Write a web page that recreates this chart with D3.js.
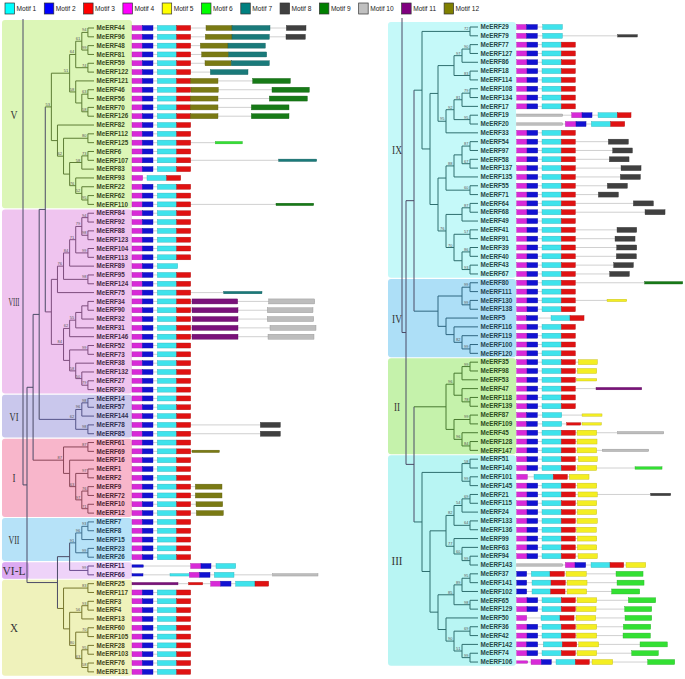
<!DOCTYPE html>
<html>
<head>
<meta charset="utf-8">
<script src="https://cdn.jsdelivr.net/npm/d3@7"></script>
<style>
  body { margin: 0; background: #fff; }
</style>
</head>
<body>
<div id="chart"></div>
<script>
// ---- data ----
const motifNames = d3.range(1, 13).map(i => "Motif " + i);

// clade subtrees (newick, leaf = MeERF number, internal label = bootstrap)
const leftClades = [
  {key: "V", label: "V", newick: "(((((44,96)94,(48,81)99)61,(59,122)74)64,(121,((46,56)63,(70,126)58))58)51,(82,((112,125)80,(((6,107)73,83)58,(93,(22,(62,110)95)52)76))62))53"},
  {key: "VIII", label: "VIII", newick: "(((((((84,92)94,(88,123)98)79,(104,113)99)71,89)84,(95,124)98)76,75),(((((34,90),32),31)55,146)62,((52,73)99,(38,(132,(27,30)79)50)58))84)"},
  {key: "VI", label: "VI", newick: "(((14,57)98,144)96,(78,85)98)62"},
  {key: "I", label: "I", newick: "((61,69)87,(16,((1,2)97,((9,72)76,(10,12)71)97)63))87"},
  {key: "VII", label: "VII", newick: "(((7,8)93,15)96,(23,26)99)91"},
  {key: "VIL", label: "VI-L", newick: "(11,66)99"},
  {key: "X", label: "X", newick: "((25,117)83,(((3,4)93,13)56,((60,105)70,((28,103)95,(76,131)58)63)80))"}
];
const leftShape = "((((V,VIII),VI),I),((VII,VIL),X))";

const rightClades = [
  {key: "IX", label: "IX", newick: "((29,79)72,(((((77,127)90,86)97,(18,114)83),((((108,134)79,17)81,(19,20)95)92,33)95),(((((54,97)87,(58,137)67),135)88,(55,71)60),(((64,68)87,49),((41,91)57,((39,40)86,(43,67)93))70)76)))"},
  {key: "IV", label: "IV", newick: "(((80,111)99,(130,138)99),(5,(116,(119,(100,120)99)82)))"},
  {key: "II", label: "II", newick: "((((35,98)99,53),(47,(118,139)78))96,((87,109)99,(45,(128,147)84)96))"},
  {key: "III", label: "III", newick: "(((51,140)58,(101,145)99),(((((21,115)69,24)54,(133,136)64)82,(99,(63,(94,143)99)60)77),((((37,141)95,102)89,(65,129)98)85,(50,((36,42)69,(142,(74,106)99)51)90))))"}
];
const rightShape = "((IX,IV),(II,III))";

// motif layout per protein: "motif:start-end" in aa, "t" = thin; S = the usual 4-2-1-3 block
const stdMotifs = "4:0-31 2:31-63 1:76-134 3:134-176";
const motifSpecs = {
  44: "S 12:222-300 7:300-414 8:463-522", 96: "S 12:220-300 7:300-412 8:462-520",
  48: "S 12:205-288 7:288-400", 81: "S 12:209-290 7:290-404", 59: "S 12:219-298 7:298-412",
  122: "S 7:235-348", 121: "S 12:176-258 9:362-475", 46: "S 12:177-259 9:420-532",
  56: "S 12:175-258 9:412-526", 70: "S 12:175-258 9:358-471", 126: "S 12:175-258 9:358-471",
  125: "S 6:250-331t", 107: "S 7:440-554t", 93: "4:0-32 1:45-104 3:104-146", 110: "S 9:432-545t",
  89: "4:0-31 2:31-63 1:76-137", 75: "S 7:275-390t",
  34: "S 11:180-317 10:410-548", 90: "S 11:180-318 10:406-543", 32: "S 11:181-318 10:406-545",
  31: "S 11:180-318 10:414-552", 146: "S 11:180-318 10:408-546",
  78: "S 8:385-445", 85: "S 8:385-445",
  69: "S 12:180-262t", 9: "S 12:190-270", 72: "S 12:190-270", 10: "S 12:192-272", 12: "S 12:193-274",
  11: "2:0-34t 4:176-207 2:207-237 1:252-311",
  66: "2:0-33t 1:114-172t 4:172-203 2:203-234 1:247-306 10:422-558t",
  25: "11:0-138t 3:170-212t 4:236-266 2:266-297 1:311-369 3:369-410",
  29: "4:0-30 2:30-62 1:78-137", 79: "4:0-30 2:30-62 1:78-137 8:303-362t",
  19: "10:0-138t 4:165-196 2:196-226 1:244-302 3:302-343",
  20: "10:0-138t 4:146-178 2:178-208 1:224-282 3:282-324",
  54: "S 8:275-335", 97: "S 8:288-347", 58: "S 8:278-337", 137: "S 8:313-373", 135: "S 8:311-371",
  55: "S 8:272-332", 71: "S 8:245-305", 64: "S 8:350-410", 68: "S 8:385-445",
  41: "S 8:301-360", 91: "S 8:295-355", 39: "S 8:300-360", 40: "S 8:299-359", 43: "S 8:291-350", 67: "S 8:279-338",
  80: "S 9:384-498t", 130: "S 5:271-330t", 5: "4:0-30 2:30-63 1:103-160 3:160-202",
  35: "S 5:185-242", 98: "S 5:182-240", 53: "S 5:180-240t", 47: "S 11:238-375t",
  87: "4:0-30 2:30-62 1:77-135 5:196-256t", 109: "4:0-30 2:30-62 1:77-135 3:150-192t 5:196-254t",
  45: "S 5:181-240 10:303-441t", 128: "S 5:181-241", 147: "S 5:181-240 10:257-396t",
  51: "S 5:185-242", 140: "S 5:182-240 6:355-436t", 101: "4:0-32 1:52-110 3:110-152 5:158-217",
  145: "S 5:182-240", 21: "S 5:184-242 8:402-462t", 115: "S 5:182-240", 24: "S 5:182-240",
  133: "S 5:181-242", 136: "S 5:180-239", 99: "S 5:182-240", 63: "S 5:182-240", 94: "S 5:184-242",
  143: "10:0-138t 4:146-175 2:175-207 1:223-280 3:280-321 5:328-387",
  37: "2:0-30 1:44-100 3:100-143 5:148-209 6:298-379", 141: "2:0-30 1:46-103 3:103-146 5:151-211 6:301-382",
  102: "2:0-30 1:46-102 3:102-145 5:151-210 6:285-369", 65: "S 5:181-240 6:335-417",
  129: "S 5:179-238 6:324-405", 50: "4:0-30 1:73-130 3:130-172 5:178-237 6:325-405",
  36: "S 5:180-240 6:320-402", 42: "S 5:180-240 6:319-401",
  142: "4:0-30 2:30-63 1:80-137 3:137-180 5:186-246 6:370-452", 74: "S 5:181-240 6:345-425",
  106: "4:0-33t 4:43-74 2:74-104 1:118-176 3:176-218 5:226-288 6:393-474"
};

// ---- styles ----
const motifColors = ["#3fe3ec", "#1212d2", "#e01212", "#d82ad8", "#f4ee22", "#33e033",
                     "#1a7a7a", "#404040", "#177a17", "#bdbdbd", "#7a127a", "#7a7a14"];
const legendColors = ["#00ffff", "#0000ff", "#ff0000", "#ff00ff", "#ffff00", "#00ff00",
                      "#008080", "#404040", "#008000", "#c0c0c0", "#800080", "#808000"];
const cladeStyle = {
  V:    {fill: "#dcf6b7", line: "#5d7d35", text: "#38491d", w: 7},
  VIII: {fill: "#efc4ef", line: "#7d4d7d", text: "#462a46", w: 11},
  VI:   {fill: "#c9c7ec", line: "#55558a", text: "#2f2f52", w: 9},
  I:    {fill: "#f8b6cb", line: "#8a4658", text: "#4e2230", w: 3},
  VII:  {fill: "#b6e2f8", line: "#3f6f8f", text: "#1f3f55", w: 11},
  VIL:  {fill: "#eed3f9", tab: "#dcaaf2", line: "#6a4a8f", text: "#3b2450", w: 23},
  X:    {fill: "#eff2bb", line: "#77772f", text: "#45451a", w: 8},
  IX:   {fill: "#c5f9f9", line: "#2f6f6f", text: "#1f4545", w: 10},
  IV:   {fill: "#addff7", line: "#2f6680", text: "#1d3f50", w: 10},
  II:   {fill: "#c5f2ab", line: "#487a30", text: "#2a4a1a", w: 6},
  III:  {fill: "#b8f5f3", line: "#2f6f6f", text: "#1f4545", w: 11}
};
const rootLine = "#4b4b66";

const width = 685, height = 679;
const svg = d3.select("#chart").append("svg")
  .attr("width", width).attr("height", height)
  .style("font-family", "'Liberation Sans', Arial, sans-serif");
svg.append("rect").attr("width", width).attr("height", height).attr("fill", "#fff");

// ---- helpers ----
function parseNewick(s) {
  let i = 0;
  function node() {
    const n = {};
    if (s[i] === "(") {
      i++;
      n.children = [];
      n.children.push(node());
      while (s[i] === ",") { i++; n.children.push(node()); }
      i++;
    }
    let tok = "";
    while (i < s.length && !",()".includes(s[i])) tok += s[i++];
    n.name = tok;
    return n;
  }
  return node();
}

function tag(n, key) {
  n.clade = key;
  if (n.children) n.children.forEach(c => tag(c, key));
}

function buildTree(shape, clades) {
  const byKey = new Map(clades.map(c => [c.key, c]));
  function sub(n) {
    if (!n.children && byKey.has(n.name)) {
      const t = parseNewick(byKey.get(n.name).newick);
      tag(t, n.name);
      return t;
    }
    if (n.children) n.children = n.children.map(sub);
    return n;
  }
  return sub(parseNewick(shape));
}

function parseSpec(id) {
  let spec = motifSpecs[id] || "S";
  spec = spec.replace("S", stdMotifs);
  return spec.split(" ").map(tok => {
    const m = tok.match(/(\d+):(\d+)-(\d+)(t?)/);
    return {motif: +m[1], start: +m[2], end: +m[3], thin: m[4] === "t"};
  });
}

function drawPanel(data, clades, opt) {
  const g = svg.append("g");
  const root = d3.hierarchy(buildTree(data, clades));
  d3.cluster().separation(() => 1).size([1, 1])(root);
  const leaves = root.leaves();
  const n = leaves.length;
  const y = d3.scaleLinear().domain([leaves[0].x, leaves[n - 1].x])
    .range([opt.y0, opt.y0 + (n - 1) * opt.step]);
  const x = d3.scaleLinear().domain([0, 1]).range([opt.rootX, opt.leafX]);
  const ms = d3.scaleLinear().domain([0, 600]).range([opt.motifX, opt.motifX + 200]);

  // clade boxes
  clades.forEach((c, i) => {
    const ls = leaves.filter(l => l.data.clade === c.key);
    const st = cladeStyle[c.key];
    const top = i === 0 ? opt.boxTop : y(ls[0].x) - opt.step / 2 + 0.6;
    const bot = y(ls[ls.length - 1].x) + opt.step / 2 - 0.6;
    g.append("rect").attr("x", opt.boxX0).attr("y", top)
      .attr("width", opt.boxX1 - opt.boxX0).attr("height", bot - top)
      .attr("rx", 3).attr("fill", st.fill);
    if (st.tab) {
      g.append("rect").attr("x", opt.boxX0).attr("y", top)
        .attr("width", 27).attr("height", bot - top)
        .attr("rx", 3).attr("fill", st.tab);
    }
    g.append("text")
      .attr("x", opt.labelX).attr("y", (top + bot) / 2)
      .attr("dy", "0.35em").attr("text-anchor", "middle")
      .attr("textLength", st.w).attr("lengthAdjust", "spacingAndGlyphs")
      .style("font-family", "'Liberation Serif', 'Times New Roman', serif")
      .style("font-size", "13px").attr("fill", "#333")
      .text(c.label);
  });

  const col = d => d.data.clade ? cladeStyle[d.data.clade].line : rootLine;

  // root stem up to the top edge
  g.append("path")
    .attr("d", `M${opt.rootX},${y(root.x)}H${opt.rootX - 4}V${opt.stemTop}`)
    .attr("fill", "none").attr("stroke", rootLine).attr("stroke-width", 1);

  // branches
  root.descendants().filter(d => d.children).forEach(d => {
    const first = d.children[0], last = d.children[d.children.length - 1];
    g.append("path")
      .attr("d", `M${x(d.y)},${y(first.x)}V${y(last.x)}`)
      .attr("stroke", col(d)).attr("stroke-width", 1).attr("fill", "none");
    d.children.forEach(c => {
      g.append("path")
        .attr("d", `M${x(d.y)},${y(c.x)}H${x(c.y)}`)
        .attr("stroke", col(c)).attr("stroke-width", 1).attr("fill", "none");
    });
    if (d.data.name) {
      g.append("text")
        .attr("x", x(d.y) - 1.5).attr("y", y(d.x) - 1)
        .attr("text-anchor", "end")
        .style("font-size", "4px").attr("fill", "#555")
        .text(d.data.name);
    }
  });

  // leaf labels + motifs
  leaves.forEach(l => {
    const ly = y(l.x);
    g.append("text")
      .attr("x", opt.leafX + 2.5).attr("y", ly).attr("dy", "0.35em")
      .style("font-size", "6.3px").style("font-weight", "bold")
      .attr("fill", cladeStyle[l.data.clade].text)
      .text("MeERF" + l.data.name);

    const segs = parseSpec(l.data.name);
    const len = d3.max(segs, s => s.end);
    g.append("line")
      .attr("x1", ms(0)).attr("x2", ms(len)).attr("y1", ly).attr("y2", ly)
      .attr("stroke", "#c4c4c4").attr("stroke-width", 0.8);
    segs.forEach(s => {
      const h = s.thin ? 2.4 : 5;
      const c = motifColors[s.motif - 1];
      g.append("rect")
        .attr("x", ms(s.start)).attr("y", ly - h / 2)
        .attr("width", ms(s.end) - ms(s.start)).attr("height", h)
        .attr("fill", c)
        .attr("stroke", d3.color(c).darker(0.7)).attr("stroke-width", 0.4);
    });
  });
}

drawPanel(leftShape, leftClades, {
  y0: 28, step: 8.82, rootX: 27, leafX: 94, motifX: 132,
  boxX0: 2, boxX1: 132, boxTop: 20, labelX: 14, stemTop: 19
});
drawPanel(rightShape, rightClades, {
  y0: 27, step: 8.82, rootX: 406, leafX: 478, motifX: 516.7,
  boxX0: 388, boxX1: 516, boxTop: 22, labelX: 397, stemTop: 18
});

// ---- legend ----
const legend = svg.append("g");
let lx = 5;
motifNames.forEach((name, i) => {
  legend.append("rect")
    .attr("x", lx).attr("y", 3).attr("width", 9.5).attr("height", 11)
    .attr("fill", legendColors[i]).attr("stroke", "#333").attr("stroke-width", 0.7);
  const t = legend.append("text")
    .attr("x", lx + 11.5).attr("y", 9).attr("dy", "0.35em")
    .style("font-size", "6.6px").attr("fill", "#222")
    .text(name);
  lx += 11.5 + t.node().getComputedTextLength() + 8;
});
</script>
</body>
</html>
